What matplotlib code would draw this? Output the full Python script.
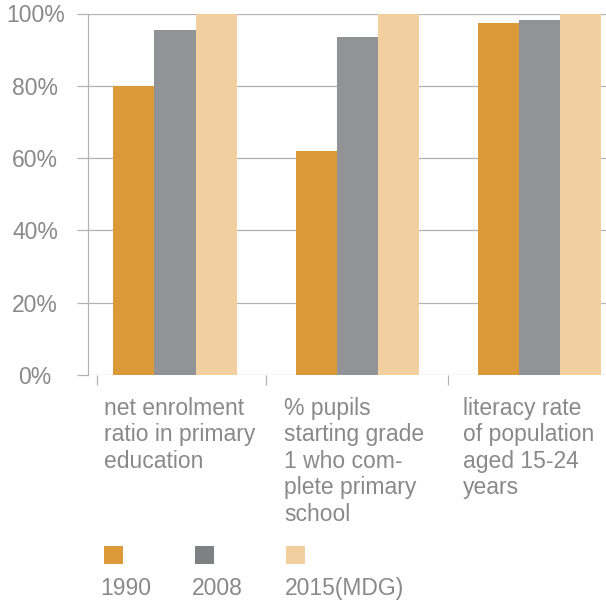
import matplotlib
matplotlib.use('Agg')
import matplotlib.pyplot as pl
from matplotlib.patches import Rectangle
import numpy as np

pl.rcParams['font.family'] = ['Liberation Sans', 'DejaVu Sans']

categories = ['net enrolment\nratio in primary\neducation',
              '% pupils\nstarting grade\n1 who com-\nplete primary\nschool',
              'literacy rate\nof population\naged 15-24\nyears']
series = ['1990', '2008', '2015(MDG)']
values_1990 = [80, 62, 97.5]
values_2008 = [95.5, 93.6, 98.3]
values_2015 = [100, 100, 100]
yticks = [0, 20, 40, 60, 80, 100]

bar_colors = ['#da9a38', '#929397', '#f1cf9f']
legend_colors = ['#dc9b38', '#7e8083', '#f2cf9f']
text_color = '#898989'
line_color = '#b3b3b3'
W, H = 606, 600
fs = 16.5


def fx(px):
    return px / W


def fy(py):
    return 1 - py / H


fig = pl.figure(figsize=(W / 100, H / 100), dpi=100)
ax = fig.add_axes([fx(88), fy(375), fx(606) - fx(88), fy(13.5) - fy(375)])

x = np.arange(len(categories))
width = 0.2253
for i, vals in enumerate([values_1990, values_2008, values_2015]):
    ax.bar(x + (i - 1) * width, vals, width, color=bar_colors[i], zorder=3)

ax.set_xlim(-0.478, 2.368)
ax.set_ylim(0, 100)
ax.set_yticks(yticks)
ax.set_yticklabels(['{}%'.format(t) for t in yticks])
ax.yaxis.grid(True, color=line_color, linewidth=0.9, zorder=0)
ax.set_axisbelow(True)
ax.tick_params(axis='y', length=8, width=0.9, color=line_color, pad=30,
               labelsize=fs, labelcolor=text_color)
for lbl in ax.get_yticklabels():
    lbl.set_horizontalalignment('center')

ax.set_xticks([-0.4286, 0.5, 1.5])
ax.set_xticklabels([])
ax.tick_params(axis='x', length=7, width=0.9, color=line_color, pad=0)

for side in ['top', 'right', 'bottom']:
    ax.spines[side].set_visible(False)
ax.spines['left'].set_color(line_color)
ax.spines['left'].set_linewidth(0.9)

label_x = [104, 284, 463]
for lx, name in zip(label_x, categories):
    fig.text(fx(lx), fy(397), name, ha='left', va='top', fontsize=fs,
             color=text_color, linespacing=1.19)

square_x = [104, 195, 286]
text_x = [100, 192, 285]
for sx, tx, name, c in zip(square_x, text_x, series, legend_colors):
    fig.add_artist(Rectangle((fx(sx), fy(564)), fx(19), 18 / H,
                             transform=fig.transFigure, color=c, lw=0))
    fig.text(fx(tx), fy(595), name, ha='left', va='baseline', fontsize=fs,
             color=text_color)

fig.savefig('out.png', dpi=100)
